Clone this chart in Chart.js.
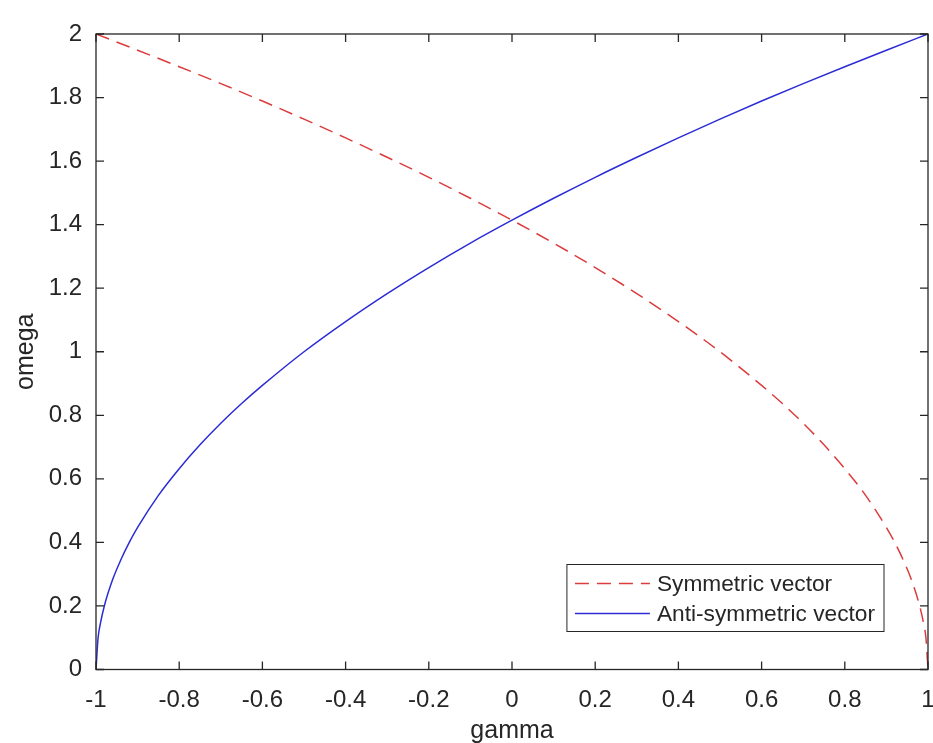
<!DOCTYPE html>
<html>
<head>
<meta charset="utf-8">
<script src="https://cdn.jsdelivr.net/npm/chart.js@4/dist/chart.umd.min.js"></script>
<style>
  html, body { margin: 0; padding: 0; background: #fff; }
  #wrap { width: 933px; height: 743px; position: relative; }
</style>
</head>
<body>
<div id="wrap"><canvas id="plot" width="933" height="743"></canvas></div>
<script>
// values
const gammaSym = [-1, -0.9, -0.8, -0.7, -0.6, -0.5, -0.4, -0.3, -0.2, -0.1, 0, 0.1, 0.2, 0.3, 0.4, 0.5, 0.6, 0.65, 0.7, 0.75, 0.8, 0.85, 0.9, 0.92, 0.94, 0.96, 0.98, 0.99, 0.995, 1];
const omegaSym = [2.0, 1.949, 1.897, 1.844, 1.789, 1.732, 1.673, 1.612, 1.549, 1.483, 1.414, 1.342, 1.265, 1.183, 1.095, 1.0, 0.894, 0.837, 0.775, 0.707, 0.632, 0.548, 0.447, 0.4, 0.346, 0.283, 0.2, 0.141, 0.1, 0];

const gammaAnti = [-1, -0.995, -0.99, -0.98, -0.96, -0.94, -0.92, -0.9, -0.85, -0.8, -0.75, -0.7, -0.65, -0.6, -0.5, -0.4, -0.3, -0.2, -0.1, 0, 0.1, 0.2, 0.3, 0.4, 0.5, 0.6, 0.7, 0.8, 0.9, 1];
const omegaAnti = [0, 0.1, 0.141, 0.2, 0.283, 0.346, 0.4, 0.447, 0.548, 0.632, 0.707, 0.775, 0.837, 0.894, 1.0, 1.095, 1.183, 1.265, 1.342, 1.414, 1.483, 1.549, 1.612, 1.673, 1.732, 1.789, 1.844, 1.897, 1.949, 2.0];

const seriesNames = ['Symmetric vector', 'Anti-symmetric vector'];
const xTitle = 'gamma';
const yTitle = 'omega';

const FONT = '"Liberation Sans", Arial, Helvetica, sans-serif';
const INK = '#262626';
const RED = '#dc3c3c';
const BLUE = '#2c2cd6';

const toPoints = (xs, ys) => xs.map((x, i) => ({ x, y: ys[i] }));
const fmt = v => String(Number(v.toFixed(1)));

// box round the plot and ticks pointing inward, on all four sides
const boxTicks = {
  id: 'boxTicks',
  afterDraw(chart) {
    const { ctx, chartArea: a, scales } = chart;
    const len = 8;
    ctx.save();
    ctx.strokeStyle = INK;
    ctx.lineWidth = 1.3;
    ctx.strokeRect(a.left, a.top, a.right - a.left, a.bottom - a.top);
    ctx.beginPath();
    scales.x.ticks.forEach(t => {
      const px = scales.x.getPixelForValue(t.value);
      ctx.moveTo(px, a.bottom); ctx.lineTo(px, a.bottom - len);
      ctx.moveTo(px, a.top); ctx.lineTo(px, a.top + len);
    });
    scales.y.ticks.forEach(t => {
      const py = scales.y.getPixelForValue(t.value);
      ctx.moveTo(a.left, py); ctx.lineTo(a.left + len, py);
      ctx.moveTo(a.right, py); ctx.lineTo(a.right - len, py);
    });
    ctx.stroke();
    ctx.restore();
  }
};

// legend box in the lower right corner, inside the axes
const insideLegend = {
  id: 'insideLegend',
  afterDraw(chart) {
    const { ctx, chartArea: a } = chart;
    const sets = chart.data.datasets;
    ctx.save();
    ctx.font = '22.7px ' + FONT;
    const textW = Math.max(...sets.map(d => ctx.measureText(d.label).width));
    const sample = 75, pad = 8, gap = 7, rowH = 30;
    const w = pad + sample + gap + textW + 9;
    const h = rowH * sets.length + 7;
    const right = a.right - 44;
    const bottom = a.bottom - 38;
    const left = right - w, top = bottom - h;
    ctx.fillStyle = '#fff';
    ctx.fillRect(left, top, w, h);
    ctx.strokeStyle = INK;
    ctx.lineWidth = 1;
    ctx.strokeRect(left, top, w, h);
    sets.forEach((d, i) => {
      const y = top + 4 + rowH * i + rowH / 2;
      ctx.beginPath();
      ctx.setLineDash(d.borderDash || []);
      ctx.strokeStyle = d.borderColor;
      ctx.lineWidth = d.borderWidth;
      ctx.moveTo(left + pad, y);
      ctx.lineTo(left + pad + sample, y);
      ctx.stroke();
      ctx.setLineDash([]);
      ctx.fillStyle = INK;
      ctx.textBaseline = 'middle';
      ctx.fillText(d.label, left + pad + sample + gap, y + 1);
    });
    ctx.restore();
  }
};

new Chart(document.getElementById('plot'), {
  type: 'scatter',
  data: {
    datasets: [
      {
        label: seriesNames[0],
        data: toPoints(gammaSym, omegaSym),
        showLine: true,
        borderColor: RED,
        borderWidth: 1.5,
        borderDash: [14, 8],
        pointRadius: 0,
        cubicInterpolationMode: 'monotone',
      },
      {
        label: seriesNames[1],
        data: toPoints(gammaAnti, omegaAnti),
        showLine: true,
        borderColor: BLUE,
        borderWidth: 1.5,
        pointRadius: 0,
        cubicInterpolationMode: 'monotone',
      },
    ],
  },
  options: {
    responsive: false,
    animation: false,
    layout: { padding: { top: 34, right: 5, left: 0, bottom: 0 } },
    plugins: {
      legend: { display: false },
      tooltip: { enabled: false },
    },
    scales: {
      x: {
        type: 'linear',
        min: -1,
        max: 1,
        ticks: {
          stepSize: 0.2,
          color: INK,
          padding: 16,
          maxRotation: 0,
          font: { family: FONT, size: 24 },
          callback: v => fmt(v),
        },
        grid: { display: false, drawTicks: false },
        border: { display: false },
        title: {
          display: true,
          text: xTitle,
          color: INK,
          font: { family: FONT, size: 25 },
          padding: { top: 0, bottom: -3 },
        },
        afterFit: s => { s.height = 73.5; s.paddingLeft = 0; s.paddingRight = 0; },
      },
      y: {
        type: 'linear',
        min: 0,
        max: 2,
        ticks: {
          stepSize: 0.2,
          color: INK,
          padding: 14,
          font: { family: FONT, size: 24 },
          callback: v => fmt(v),
        },
        grid: { display: false, drawTicks: false },
        border: { display: false },
        title: {
          display: true,
          text: yTitle,
          color: INK,
          font: { family: FONT, size: 25 },
          padding: { top: 11, bottom: 0 },
        },
        afterFit: s => { s.width = 96; s.paddingTop = 0; s.paddingBottom = 0; },
      },
    },
  },
  plugins: [boxTicks, insideLegend],
});
</script>
</body>
</html>
